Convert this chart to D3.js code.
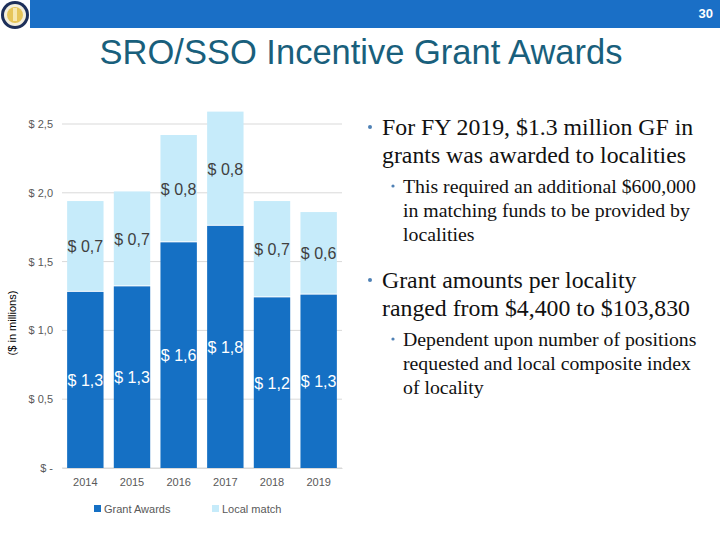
<!DOCTYPE html>
<html>
<head>
<meta charset="utf-8">
<script src="https://cdnjs.cloudflare.com/ajax/libs/d3/7.8.5/d3.min.js"></script>
<style>
body { margin: 0; background: #fff; }
svg { display: block; }
</style>
</head>
<body>
<div id="slide"></div>
<script>

// chart data (millions of dollars)
var years = ["2014", "2015", "2016", "2017", "2018", "2019"]
var grantAwards = [1.28, 1.32, 1.64, 1.76, 1.24, 1.26]
var localMatch = [0.66, 0.69, 0.78, 0.83, 0.70, 0.60]
var tickValues = [0, 0.5, 1.0, 1.5, 2.0, 2.5]
var tickLabels = ["$ -", "$ 0,5", "$ 1,0", "$ 1,5", "$ 2,0", "$ 2,5"]
var seriesNames = ["Grant Awards", "Local match"]
var seriesColors = ["#1570c4", "#c6ebfa"]

var svg = d3.select("#slide").append("svg")
.attr("width", 720)
.attr("height", 540)

// header bar
svg.append("rect")
.attr("x", 30).attr("y", 0)
.attr("width", 690).attr("height", 28)
.style("fill", "#1a6fc6")

svg.append("text")
.attr("x", 713).attr("y", 18)
.attr("text-anchor", "end")
.style("font-family", "Liberation Sans, Arial, sans-serif")
.style("font-size", "13px")
.style("font-weight", "bold")
.style("fill", "#fff")
.text("30")

// seal
var seal = svg.append("g").attr("transform", "translate(15,15)")
seal.append("circle").attr("r", 14).style("fill", "#1d2f5a")
seal.append("circle").attr("r", 11).style("fill", "#f4efdc")
seal.append("circle").attr("r", 8).style("fill", "#e6c55a")
seal.append("rect").attr("x", -2).attr("y", -7).attr("width", 4).attr("height", 13).style("fill", "#f6e7b0")

// title
svg.append("text")
.attr("x", 361).attr("y", 64)
.attr("text-anchor", "middle")
.style("font-family", "Liberation Sans, Arial, sans-serif")
.style("font-size", "34.5px")
.style("fill", "#195f7c")
.text("SRO/SSO Incentive Grant Awards")

// chart
var margins = { top: 124, left: 62 }
var width = 280
var height = 344

var chart = svg.append("g")
.attr("transform", "translate(" + margins.left + "," + margins.top + ")")

var xScale = d3.scaleBand().domain(years).range([0, width]).paddingInner(0.22).paddingOuter(0.11)
var yScale = d3.scaleLinear().domain([0, 2.5]).range([height, 0])

// gridlines
chart.selectAll(".grid")
.data(tickValues)
.enter()
.append("line")
.attr("x1", 0).attr("x2", width)
.attr("y1", function(d){ return yScale(d) })
.attr("y2", function(d){ return yScale(d) })
.style("stroke", "#d9d9d9")
.style("stroke-width", "1px")

var yAxis = d3.axisLeft(yScale).tickValues(tickValues).tickSize(0).tickPadding(9)
.tickFormat(function(d, i){ return tickLabels[i] })
var yG = chart.append("g").call(yAxis)
yG.select(".domain").remove()
yG.selectAll("text")
.style("font-family", "Liberation Sans, Arial, sans-serif")
.style("font-size", "11px")
.style("fill", "#595959")

var xAxis = d3.axisBottom(xScale).tickSize(0).tickPadding(10)
var xG = chart.append("g").attr("transform", "translate(0," + height + ")").call(xAxis)
xG.select(".domain").style("stroke", "#d9d9d9")
xG.selectAll("text")
.style("font-family", "Liberation Sans, Arial, sans-serif")
.style("font-size", "11px")
.style("fill", "#595959")

var fmt = function(v){ return "$ " + d3.format(".1f")(v).replace(".", ",") }

var rows = years.map(function(y, i){
return { year: y, grant: grantAwards[i], local: localMatch[i] }
})

// grant bars
chart.selectAll(".grant")
.data(rows)
.enter()
.append("rect")
.attr("x", function(d){ return xScale(d.year) })
.attr("width", xScale.bandwidth())
.attr("y", function(d){ return yScale(d.grant) })
.attr("height", function(d){ return height - yScale(d.grant) })
.style("fill", seriesColors[0])

// local match bars
chart.selectAll(".local")
.data(rows)
.enter()
.append("rect")
.attr("x", function(d){ return xScale(d.year) })
.attr("width", xScale.bandwidth())
.attr("y", function(d){ return yScale(d.grant + d.local) })
.attr("height", function(d){ return yScale(d.grant) - yScale(d.grant + d.local) - 1 })
.style("fill", seriesColors[1])

// value labels
chart.selectAll(".lblGrant")
.data(rows)
.enter()
.append("text")
.attr("x", function(d){ return xScale(d.year) + xScale.bandwidth() / 2 })
.attr("y", function(d){ return (yScale(d.grant) + yScale(0)) / 2 + 6 })
.attr("text-anchor", "middle")
.style("font-family", "Liberation Sans, Arial, sans-serif")
.style("font-size", "16px")
.style("fill", "#fff")
.text(function(d){ return fmt(d.grant) })

chart.selectAll(".lblLocal")
.data(rows)
.enter()
.append("text")
.attr("x", function(d){ return xScale(d.year) + xScale.bandwidth() / 2 })
.attr("y", function(d){ return (yScale(d.grant) + yScale(d.grant + d.local)) / 2 + 6 })
.attr("text-anchor", "middle")
.style("font-family", "Liberation Sans, Arial, sans-serif")
.style("font-size", "16px")
.style("fill", "#404040")
.text(function(d){ return fmt(d.local) })

// y title
svg.append("text")
.attr("transform", "translate(16,323) rotate(-90)")
.attr("text-anchor", "middle")
.style("font-family", "Liberation Sans, Arial, sans-serif")
.style("font-size", "11px")
.style("fill", "#000")
.text("($ in millions)")

// legend
var legendX = [94, 212]
seriesNames.forEach(function(name, i){
svg.append("rect")
.attr("x", legendX[i]).attr("y", 505)
.attr("width", 7).attr("height", 7)
.style("fill", seriesColors[i])
svg.append("text")
.attr("x", legendX[i] + 10).attr("y", 513)
.style("font-family", "Liberation Sans, Arial, sans-serif")
.style("font-size", "11px")
.style("fill", "#595959")
.text(name)
})

// bullet text
var bullets = [
{ level: 0, y: 135, lines: ["For FY 2019, $1.3 million GF in", "grants was awarded to localities"] },
{ level: 1, y: 193, lines: ["This required an additional $600,000", "in matching funds to be provided by", "localities"] },
{ level: 0, y: 288, lines: ["Grant amounts per locality", "ranged from $4,400 to $103,830"] },
{ level: 1, y: 346, lines: ["Dependent upon number of positions", "requested and local composite index", "of locality"] }
]

bullets.forEach(function(b){
var size = b.level == 0 ? 23.8 : 19.8
var lh = b.level == 0 ? 28 : 24
var tx = b.level == 0 ? 382 : 403
svg.append("circle")
.attr("cx", b.level == 0 ? 370 : 393)
.attr("cy", b.y - (b.level == 0 ? 8 : 7))
.attr("r", b.level == 0 ? 2 : 1.6)
.style("fill", "#4f81b5")
b.lines.forEach(function(line, j){
svg.append("text")
.attr("x", tx).attr("y", b.y + j * lh)
.style("font-family", "Liberation Serif, Times New Roman, serif")
.style("font-size", size + "px")
.style("fill", "#111")
.text(line)
})
})

</script>
</body>
</html>
